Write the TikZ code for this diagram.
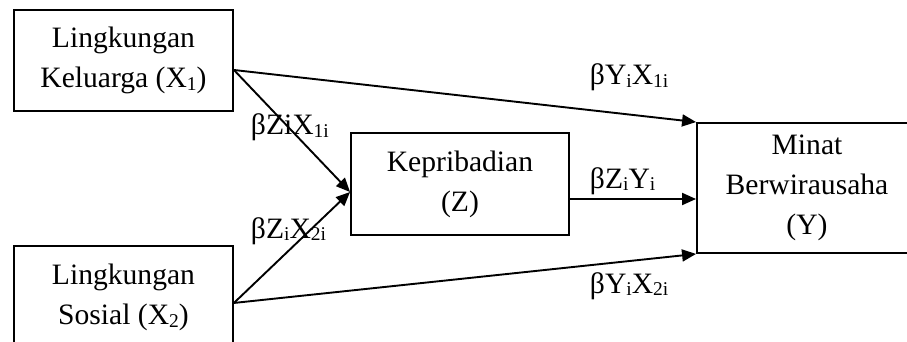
\documentclass[tikz,border=0pt]{standalone}
\usepackage{fontspec}
\setmainfont{Liberation Serif}
\usetikzlibrary{positioning,calc,arrows.meta}
\newcommand{\lowsub}[1]{\raisebox{-2.5pt}{\fontsize{19.5}{20}\selectfont #1}}

\begin{document}
\begin{tikzpicture}[x=1pt, y=1pt, >={Triangle[length=14pt,width=12pt]}, line width=1.9pt,
    every node/.style={font=\fontsize{29.6}{40}\selectfont},
    var/.style={draw, align=center, inner sep=0pt, minimum width=219pt},
    coef/.style={anchor=base west, inner sep=0pt}]
    \useasboundingbox (0,0) rectangle (907,-342);
    \node (kel) [var, minimum height=101pt] at (123.5,-60.5) {Lingkungan \\ Keluarga (X\lowsub{1})};
    \node (sos) [var, minimum height=103pt, below=133pt of kel] {Lingkungan \\ Sosial (X\lowsub{2})};
    \node (kep) [var, minimum width=218pt, minimum height=102pt] at (460,-184) {Kepribadian \\ (Z)};
    \node (mnt) [var, minimum width=220pt, minimum height=130pt] at (807,-188) {Minat \\ Berwirausaha \\ (Y)};
    \draw[->] ($(kel.east)+(0,-9.5)$) -- (mnt.north west);
    \draw[->] ($(kel.east)+(0,-9.5)$) -- ($(kep.west)+(0,-8)$);
    \draw[->] ($(sos.north east)+(0,-58)$) -- ($(kep.west)+(0,-8)$);
    \draw[->] ($(sos.north east)+(0,-58)$) -- (mnt.south west);
    \draw[->] ($(kep.east)+(0,-15)$) -- ($(mnt.west)+(0,-11)$);
    \node (b1) [coef] at (589,-85)  {βY\lowsub{i}X\lowsub{1i}};
    \node (b2) [coef] at (250,-135) {βZiX\lowsub{1i}};
    \node (b3) [coef] at (250,-238) {βZ\lowsub{i}X\lowsub{2i}};
    \node (b4) [coef] at (589,-188) {βZ\lowsub{i}Y\lowsub{i}};
    \node (b5) [coef] at (589,-293) {βY\lowsub{i}X\lowsub{2i}};
  \end{tikzpicture}
\end{document}
